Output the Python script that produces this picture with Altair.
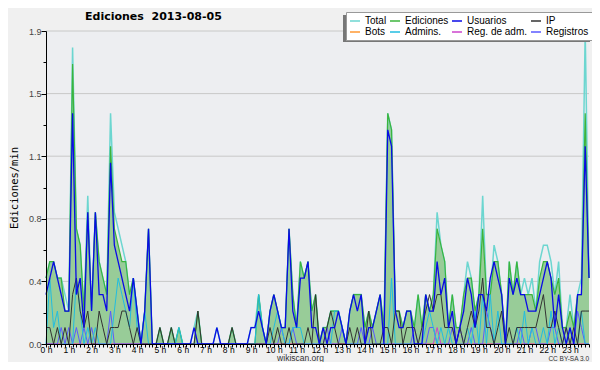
import altair as alt
import pandas as pd

# ---- data (values in edits/min, 10-minute bins, 0h00 .. 23h50) ----
series_names = ["Total", "Ediciones", "Usuarios", "IP", "Bots", "Admins.", "Reg. de adm.", "Registros"]
series_colors = ["#6cd6d0", "#3cb43c", "#0a0ae6", "#333333", "#ff9933", "#22bde0", "#cc44cc", "#5a5aff"]

total = [0.4, 0.5, 0.5, 0.4, 0.4, 0.3, 0.2, 1.8, 0.7, 0.6, 0.2, 0.9,
         0.2, 0.8, 0.5, 0.4, 0.3, 1.4, 0.8, 0.7, 0.6, 0.5, 0.3, 0.4,
         0.2, 0, 0.2, 0.7, 0, 0, 0.1, 0, 0, 0.1, 0, 0.1,
         0, 0, 0, 0.1, 0.2, 0, 0, 0, 0, 0.1, 0, 0,
         0, 0.1, 0, 0, 0, 0, 0.1, 0.1, 0.3, 0.1, 0, 0.2,
         0.3, 0.2, 0.1, 0.1, 0.7, 0.3, 0.1, 0.5, 0.4, 0.5, 0.2, 0.3,
         0, 0.1, 0.1, 0.2, 0.2, 0.2, 0.1, 0, 0.2, 0.3, 0.3, 0.3,
         0.1, 0.2, 0.1, 0.2, 0.3, 0.1, 1.4, 1.3, 0.2, 0.2, 0.1, 0.2,
         0.2, 0.1, 0.3, 0.1, 0.3, 0.2, 0.3, 0.8, 0.6, 0.5, 0.1, 0.3,
         0.1, 0.1, 0.3, 0.5, 0.4, 0.2, 0.3, 0.9, 0.3, 0.3, 0.6, 0.5,
         0.3, 0, 0.5, 0.3, 0.5, 0.3, 0.4, 0.3, 0.4, 0.2, 0.5, 0.6,
         0.6, 0.5, 0.3, 0.5, 0.1, 0.1, 0.3, 0.1, 0.3, 0.4, 1.9, 0.4]

ediciones = [0.4, 0.5, 0.5, 0.4, 0.4, 0.2, 0.2, 1.7, 0.7, 0.6, 0.2, 0.8,
             0.2, 0.8, 0.5, 0.4, 0.3, 1.2, 0.7, 0.6, 0.5, 0.5, 0.3, 0.4,
             0.2, 0, 0.2, 0.7, 0, 0, 0.1, 0, 0, 0.1, 0, 0.1,
             0, 0, 0, 0, 0.2, 0, 0, 0, 0, 0, 0, 0,
             0, 0.1, 0, 0, 0, 0, 0, 0, 0.3, 0.1, 0, 0.2,
             0.3, 0.2, 0.1, 0.1, 0.7, 0.3, 0.1, 0.5, 0.4, 0.5, 0.2, 0.3,
             0, 0.1, 0.1, 0.2, 0.2, 0.2, 0.1, 0, 0.2, 0.3, 0.3, 0.3,
             0.1, 0.2, 0.1, 0.2, 0.3, 0.1, 1.4, 1.3, 0.2, 0.2, 0.1, 0.2,
             0.2, 0.1, 0.3, 0.1, 0.3, 0.2, 0.3, 0.7, 0.6, 0.5, 0.1, 0.3,
             0.1, 0.1, 0.3, 0.4, 0.4, 0.2, 0.3, 0.7, 0.3, 0.3, 0.5, 0.5,
             0.3, 0, 0.5, 0.3, 0.5, 0.3, 0.3, 0.3, 0.3, 0.2, 0.4, 0.5,
             0.5, 0.4, 0.3, 0.4, 0.1, 0.1, 0.2, 0.1, 0.3, 0.3, 1.4, 0.4]

usuarios = [0.3, 0.4, 0.5, 0.4, 0.3, 0.2, 0.2, 1.4, 0.3, 0.4, 0.1, 0.8,
            0.2, 0.8, 0.3, 0.3, 0.2, 1.1, 0.6, 0.5, 0.4, 0.3, 0.2, 0.4,
            0.2, 0, 0.2, 0.7, 0, 0, 0, 0, 0, 0, 0, 0,
            0, 0, 0, 0.1, 0, 0, 0, 0, 0, 0.1, 0, 0,
            0, 0, 0, 0, 0, 0, 0.1, 0.1, 0.2, 0.1, 0, 0.2,
            0.3, 0.2, 0.1, 0.1, 0.7, 0.2, 0.1, 0.4, 0.4, 0.5, 0.1, 0.1,
            0, 0.1, 0, 0.1, 0.1, 0.2, 0.1, 0, 0.2, 0.3, 0.2, 0.3,
            0, 0.1, 0.1, 0.2, 0.3, 0, 1.3, 1.2, 0.2, 0.1, 0.1, 0.2,
            0.2, 0, 0, 0, 0.3, 0.2, 0.2, 0.5, 0.3, 0.4, 0.1, 0.2,
            0, 0.1, 0.2, 0.4, 0.3, 0.1, 0.3, 0.3, 0.2, 0.4, 0.5, 0.4,
            0.3, 0, 0.4, 0.3, 0.4, 0.3, 0.3, 0.2, 0.2, 0.2, 0.3, 0.4,
            0.5, 0.4, 0.1, 0.3, 0.1, 0, 0.1, 0, 0.3, 0.3, 1.2, 0.4]

ip = [0.1, 0.1, 0, 0.1, 0, 0.1, 0, 0.3, 0.4, 0.2, 0.1, 0.2,
      0, 0, 0.2, 0.1, 0, 0.1, 0.1, 0.1, 0.2, 0.2, 0.1, 0,
      0.1, 0, 0, 0, 0, 0, 0.1, 0, 0, 0.1, 0, 0,
      0, 0, 0, 0, 0.2, 0, 0, 0, 0, 0, 0, 0,
      0, 0.1, 0, 0, 0, 0, 0, 0, 0, 0, 0, 0.1,
      0, 0.1, 0, 0, 0.1, 0, 0, 0, 0, 0.1, 0, 0.3,
      0, 0, 0.1, 0.2, 0.1, 0, 0, 0, 0.1, 0, 0.1, 0,
      0, 0.2, 0, 0, 0, 0.1, 0.1, 0, 0.2, 0.2, 0, 0.1,
      0.1, 0.1, 0, 0.1, 0.2, 0.3, 0.2, 0.3, 0.3, 0.1, 0.1, 0.1,
      0, 0.1, 0, 0.1, 0.2, 0.1, 0.2, 0.4, 0.1, 0.1, 0, 0.1,
      0.2, 0, 0.1, 0, 0.1, 0.1, 0.1, 0.1, 0.1, 0.1, 0.2, 0.3,
      0.1, 0.1, 0.2, 0.1, 0, 0.1, 0, 0.1, 0, 0.2, 0.2, 0.2]

bots = [0] * 144

admins = [0, 0.4, 0.1, 0.2, 0, 0, 0, 0, 0.4, 0.2, 0, 0.1,
          0, 0.1, 0, 0, 0, 0, 0.2, 0.4, 0.3, 0.2, 0.1, 0.4,
          0.1, 0, 0.2, 0, 0, 0, 0, 0, 0, 0, 0, 0.1,
          0, 0, 0, 0, 0, 0, 0, 0, 0, 0, 0, 0,
          0, 0, 0, 0, 0, 0, 0, 0, 0.3, 0.1, 0, 0,
          0.1, 0.2, 0.1, 0, 0, 0.1, 0.1, 0.1, 0, 0, 0, 0,
          0, 0, 0, 0, 0.2, 0.2, 0.1, 0, 0, 0, 0, 0,
          0, 0, 0, 0, 0, 0, 0, 0.4, 0, 0, 0, 0,
          0, 0, 0, 0, 0.1, 0.2, 0.1, 0, 0.1, 0, 0.1, 0,
          0, 0, 0, 0.1, 0, 0.2, 0, 0.3, 0, 0.3, 0, 0.2,
          0, 0, 0, 0, 0.1, 0, 0.2, 0, 0.1, 0, 0, 0.1,
          0, 0.2, 0, 0.1, 0, 0, 0.1, 0, 0, 0.2, 0, 0]

reg_adm = [0] * 103 + [0.1] + [0] * 40

registros = [0, 0, 0, 0, 0.1, 0, 0.1, 0, 0.1, 0, 0.1, 0,
             0.1, 0, 0, 0, 0, 0.2, 0, 0, 0, 0, 0, 0,
             0, 0, 0, 0, 0, 0, 0, 0, 0, 0, 0, 0,
             0, 0, 0, 0, 0, 0, 0, 0, 0, 0, 0, 0,
             0, 0, 0, 0, 0, 0, 0, 0, 0, 0, 0, 0,
             0, 0, 0.1, 0, 0, 0.1, 0, 0, 0, 0, 0, 0,
             0, 0, 0.1, 0, 0, 0, 0.1, 0, 0, 0, 0, 0.1,
             0, 0, 0.1, 0, 0, 0, 0, 0, 0, 0, 0, 0,
             0, 0.1, 0, 0, 0, 0.1, 0.1, 0, 0, 0, 0, 0.1,
             0, 0.1, 0, 0, 0.1, 0, 0, 0, 0.2, 0.1, 0, 0,
             0, 0, 0, 0, 0, 0.1, 0, 0, 0.1, 0.1, 0, 0,
             0, 0.1, 0.1, 0, 0, 0.1, 0, 0, 0.2, 0.1, 0, 0]

series_values = {
    "Total": total, "Ediciones": ediciones, "Usuarios": usuarios, "IP": ip,
    "Bots": bots, "Admins.": admins, "Reg. de adm.": reg_adm, "Registros": registros,
}

n_bins = 144
hours = [i / 6 for i in range(n_bins)]
y_ticks = [round(k * 0.19, 2) for k in range(11)]
grid_values = [0.38, 0.76, 1.14, 1.52, 1.9]

rows = []
for name in series_names:
    for h, v in zip(hours, series_values[name]):
        rows.append({"hour": h, "value": v, "series": name})
df = pd.DataFrame(rows)
grid_df = pd.DataFrame({"value": grid_values})

# ---- encodings ----
FONT = "Liberation Sans"
x_scale = alt.Scale(domain=[0, hours[-1]], nice=False, zero=False)
y_scale = alt.Scale(domain=[0, 1.9], nice=False)

x_enc = alt.X("hour:Q", scale=x_scale, axis=alt.Axis(
    values=hours, labelExpr="datum.value % 1 == 0 ? datum.value + ' h' : ''",
    labelOverlap=False, labelFlush=False, tickSize=3, tickColor="black",
    domainColor="black", labelColor="black", labelFont=FONT, labelFontSize=8.5,
    labelPadding=-1.5, grid=False, zindex=1,
    title="wikiscan.org", titleFont=FONT, titleFontSize=8.5, titleFontWeight="normal",
    titleColor="#333333", titleX=254, titleY=16, titleBaseline="alphabetic", titleAnchor="start",
    titleAlign="center"))

y_enc = alt.Y("value:Q", scale=y_scale, axis=alt.Axis(
    values=y_ticks,
    labelExpr="(round(datum.value*100) % 38 == 0) ? format(datum.value, '.1f') : ''",
    tickSize={"condition": {"test": "round(datum.value*100) % 38 == 0", "value": 5}, "value": 3},
    tickColor="black", domainColor="black", labelColor="#444444", labelFont=FONT,
    labelFontSize=9, labelPadding=0, grid=False, zindex=1, labelOverlap=False,
    title="Ediciones/min", titleFont="DejaVu Sans Mono", titleFontSize=10.5,
    titleFontWeight="normal", titleColor="black", titleX=-32, titleY=156.5,
    titleAngle=-90, titleAlign="center", titleBaseline="middle"))

color_enc = alt.Color("series:N", scale=alt.Scale(domain=series_names, range=series_colors),
                      legend=alt.Legend(
                          orient="none", legendX=300, legendY=-19, columns=4, title=None,
                          direction="horizontal",
                          fillColor="white", strokeColor="#999999", padding=3,
                          symbolType="stroke", symbolSize=100, symbolStrokeWidth=1.5,
                          labelFont=FONT, labelFontSize=10, labelColor="black",
                          rowPadding=-2, columnPadding=0, labelOffset=4, labelLimit=200))

base = alt.Chart(df)

grid = alt.Chart(grid_df).mark_rule(color="#c8c8c8", strokeWidth=1).encode(y=y_enc)

area = base.transform_filter(alt.datum.series == "Ediciones").mark_area(
    color="#98cc98", opacity=1, interpolate="linear").encode(x=x_enc, y=y_enc)

widths = {"Total": 1.5, "Ediciones": 1.2, "Bots": 1, "Reg. de adm.": 1, "Registros": 1,
          "Admins.": 1, "IP": 1, "Usuarios": 1.3}
draw_order = ["Total", "Ediciones", "Bots", "Reg. de adm.", "Registros", "Admins.", "IP", "Usuarios"]
lines = [
    base.transform_filter(alt.datum.series == name).mark_line(
        strokeWidth=widths[name], interpolate="linear").encode(x=x_enc, y=y_enc, color=color_enc)
    for name in draw_order
]

shadow = alt.Chart(grid_df).mark_rect(color="#777777").encode(
    x=alt.value(297), x2=alt.value(544), y=alt.value(-16), y2=alt.value(11))

license_txt = alt.Chart(pd.DataFrame({"t": ["CC BY-SA 3.0"]})).mark_text(
    font=FONT, fontSize=6.5, color="#333333", align="right", baseline="alphabetic").encode(
    text="t:N", x=alt.value(543), y=alt.value(330))

title_txt = alt.Chart(pd.DataFrame({"t": ["Ediciones\u00a0 2013-08-05"]})).mark_text(
    font="DejaVu Sans", fontSize=11, fontWeight="bold", color="black", align="left",
    baseline="alphabetic").encode(text="t:N", x=alt.value(39), y=alt.value(-11))

chart = alt.layer(grid, area, *lines, shadow, license_txt, title_txt).properties(
    width=543, height=313,
    autosize="none",
    padding={"left": 38, "top": 23, "right": 3, "bottom": 18},
    background="#f0f0f0",
).configure_view(fill="#edeef1", stroke=None)

chart.save("out.html", embed_options={"renderer": "svg", "actions": False})
